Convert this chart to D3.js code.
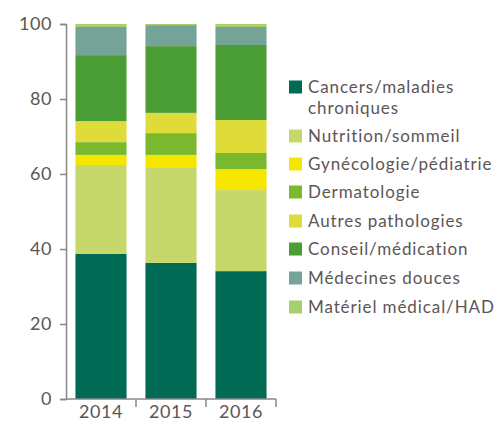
<!DOCTYPE html>
<html>
<head>
<meta charset="utf-8">
<script src="https://cdn.jsdelivr.net/npm/d3@7"></script>
<style>
  html, body { margin: 0; padding: 0; background: #fff; }
  #chart { width: 499px; height: 423px; }
</style>
</head>
<body>
<div id="chart"></div>
<script>
// données (en %)
const annees = ["2014", "2015", "2016"];
const categories = [
  "Cancers/maladies chroniques",
  "Nutrition/sommeil",
  "Gynécologie/pédiatrie",
  "Dermatologie",
  "Autres pathologies",
  "Conseil/médication",
  "Médecines douces",
  "Matériel médical/HAD"
];
const cancers = [38.7, 36.3, 34.1];
const nutrition = [23.7, 25.3, 21.6];
const gynecologie = [2.7, 3.5, 5.6];
const dermatologie = [3.4, 5.8, 4.3];
const autres = [5.6, 5.4, 8.8];
const conseil = [17.6, 17.8, 20.0];
const medecines = [7.5, 5.6, 4.8];
const materiel = [0.8, 0.3, 0.8];
const yTicks = [0, 20, 40, 60, 80, 100];

const couleurs = ["#006b55", "#c6d76c", "#f5e600", "#7ab82e", "#dfdb38", "#4a9e35", "#76a397", "#a9cf6c"];
const legendeLignes = [
  ["Cancers/maladies", "chroniques"],
  ["Nutrition/sommeil"],
  ["Gynécologie/pédiatrie"],
  ["Dermatologie"],
  ["Autres pathologies"],
  ["Conseil/médication"],
  ["Médecines douces"],
  ["Matériel médical/HAD"]
];

const series = [cancers, nutrition, gynecologie, dermatologie, autres, conseil, medecines, materiel];
const table = annees.map((a, i) => {
  const row = { annee: a };
  categories.forEach((c, k) => { row[c] = series[k][i]; });
  return row;
});

const width = 499, height = 423;
const colorTexte = "#5e5555";
const colorAxe = "#8c8686";
const police = "Lato, 'Open Sans', sans-serif";

const svg = d3.select("#chart").append("svg")
  .attr("width", width)
  .attr("height", height)
  .style("font-family", police);

const x = d3.scaleBand()
  .domain(annees)
  .range([66, 276])
  .paddingInner(0.27)
  .paddingOuter(0.135);

const y = d3.scaleLinear().domain([0, 100]).range([399, 24]);

const stack = d3.stack().keys(categories)(table);

svg.append("g")
  .selectAll("g")
  .data(stack)
  .join("g")
  .attr("fill", (d, i) => couleurs[i])
  .selectAll("rect")
  .data(d => d)
  .join("rect")
  .attr("x", d => x(d.data.annee))
  .attr("y", d => y(d[1]))
  .attr("width", x.bandwidth())
  .attr("height", d => y(d[0]) - y(d[1]));

// axe vertical
const axeY = svg.append("g")
  .attr("transform", "translate(66,0)")
  .call(d3.axisLeft(y).tickValues(yTicks).tickSize(6).tickPadding(8).tickFormat(d3.format("d")));
axeY.select(".domain").attr("stroke", colorAxe).attr("stroke-width", 1.5);
axeY.selectAll(".tick line").attr("stroke", colorAxe).attr("stroke-width", 1.5);
axeY.selectAll("text")
  .attr("fill", colorTexte)
  .attr("font-size", 18)
  .attr("letter-spacing", 0.6)
  .attr("font-family", police);

// axe horizontal
const axeX = svg.append("g").attr("transform", "translate(0,399)");
axeX.append("line")
  .attr("x1", 66).attr("x2", 276)
  .attr("stroke", colorAxe).attr("stroke-width", 1.5);
axeX.selectAll("line.sep")
  .data(annees)
  .join("line")
  .attr("class", "sep")
  .attr("x1", d => x(d) + x.bandwidth() + x.step() * x.paddingInner() / 2)
  .attr("x2", d => x(d) + x.bandwidth() + x.step() * x.paddingInner() / 2)
  .attr("y1", 0).attr("y2", 8)
  .attr("stroke", colorAxe).attr("stroke-width", 1.5);
axeX.selectAll("text")
  .data(annees)
  .join("text")
  .attr("x", d => x(d) + x.bandwidth() / 2)
  .attr("y", 19)
  .attr("text-anchor", "middle")
  .attr("fill", colorTexte)
  .attr("font-size", 18)
  .attr("letter-spacing", 0.6)
  .text(d => d);

// légende
const legendeY = [87, 136, 164, 192, 221, 249, 278, 307];
const legende = svg.append("g");
legendeLignes.forEach((lignes, i) => {
  const g = legende.append("g").attr("transform", `translate(289,${legendeY[i]})`);
  g.append("rect")
    .attr("x", 0).attr("y", -6.5)
    .attr("width", 13).attr("height", 13)
    .attr("fill", couleurs[i]);
  lignes.forEach((t, j) => {
    g.append("text")
      .attr("x", 19)
      .attr("y", j * 21)
      .attr("dy", "0.35em")
      .attr("fill", colorTexte)
      .attr("font-size", 17)
      .attr("letter-spacing", 0.9)
      .text(t);
  });
});
</script>
</body>
</html>
